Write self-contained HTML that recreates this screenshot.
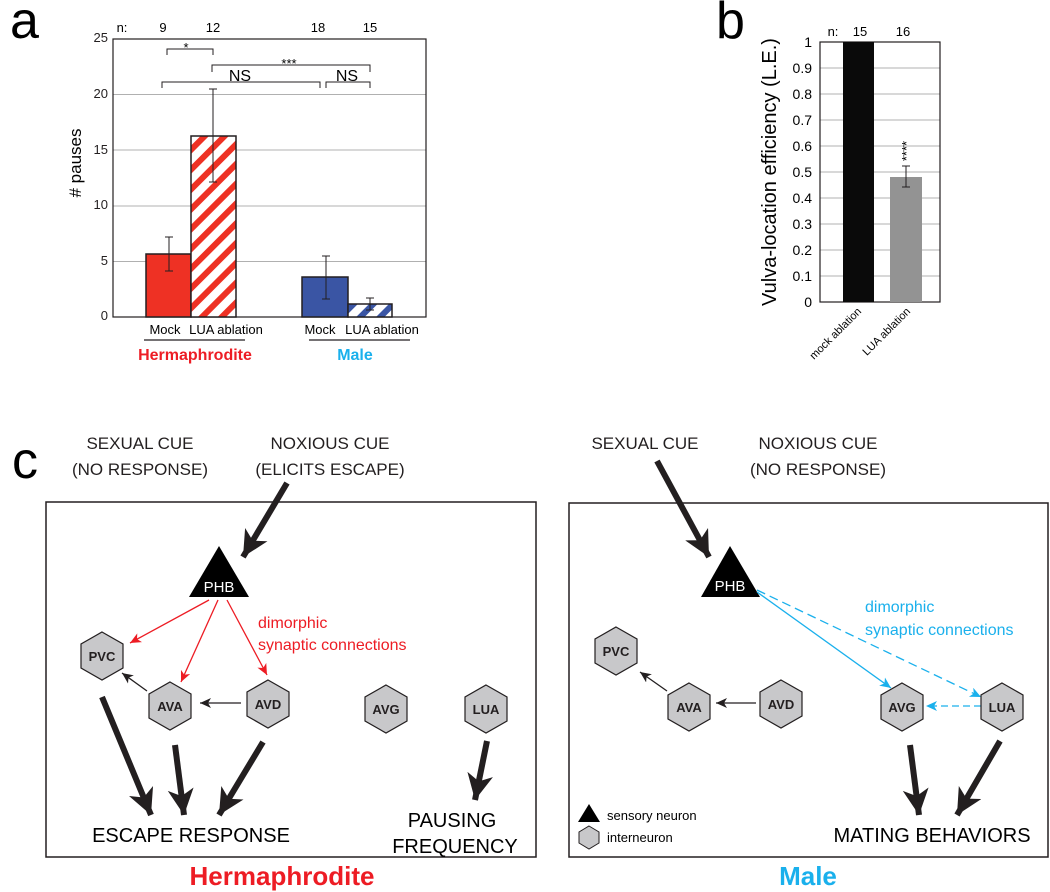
<!DOCTYPE html>
<html><head><style>body{margin:0;background:#fff}svg{display:block}text{font-family:"Liberation Sans",Arial,sans-serif}</style></head>
<body>
<svg width="1050" height="892" viewBox="0 0 1050 892" xmlns="http://www.w3.org/2000/svg">
<defs>
<pattern id="rh" patternUnits="userSpaceOnUse" width="14" height="14" patternTransform="rotate(45)"><rect width="14" height="14" fill="#fff"/><rect width="6" height="14" fill="#ee3124"/></pattern>
<pattern id="bh" patternUnits="userSpaceOnUse" width="14" height="14" patternTransform="rotate(45)"><rect width="14" height="14" fill="#fff"/><rect width="6" height="14" fill="#3a55a4"/></pattern>
<marker id="big" markerUnits="userSpaceOnUse" markerWidth="30" markerHeight="30" refX="26" refY="13" orient="auto"><path d="M0,0 L26,13 L0,26 L7,13 Z" fill="#231f20"/></marker>
<marker id="sm" markerUnits="userSpaceOnUse" markerWidth="14" markerHeight="12" refX="11" refY="5" orient="auto"><path d="M0,0 L11,5 L0,10 L3,5 Z" fill="#231f20"/></marker>
<marker id="rd" markerUnits="userSpaceOnUse" markerWidth="14" markerHeight="12" refX="11" refY="5" orient="auto"><path d="M0,0 L11,5 L0,10 L3,5 Z" fill="#ed1c24"/></marker>
<marker id="bl" markerUnits="userSpaceOnUse" markerWidth="14" markerHeight="12" refX="11" refY="5" orient="auto"><path d="M0,0 L11,5 L0,10 L3,5 Z" fill="#1ab0ec"/></marker>
<g id="hex"><polygon points="0,-24 21,-12 21,12 0,24 -21,12 -21,-12" fill="#c8c8ca" stroke="#231f20" stroke-width="1.2"/></g>
</defs>

<!-- Panel a -->
<text x="10" y="38" font-size="52">a</text>
<g stroke="#b0b0b0" stroke-width="1"><line x1="113" y1="94.5" x2="426" y2="94.5"/><line x1="113" y1="150" x2="426" y2="150"/><line x1="113" y1="206" x2="426" y2="206"/><line x1="113" y1="261.5" x2="426" y2="261.5"/></g>
<rect x="113" y="39" width="313" height="278" fill="none" stroke="#231f20" stroke-width="1.2"/>
<g font-size="13" text-anchor="end" fill="#231f20"><text x="108" y="42">25</text><text x="108" y="98">20</text><text x="108" y="154">15</text><text x="108" y="209">10</text><text x="108" y="265">5</text><text x="108" y="320">0</text></g>
<g font-size="13" text-anchor="middle"><text x="122" y="32">n:</text><text x="163" y="32">9</text><text x="213" y="32">12</text><text x="318" y="32">18</text><text x="370" y="32">15</text></g>
<rect x="146" y="254" width="45" height="63" fill="#ee3124" stroke="#231f20" stroke-width="1.5"/>
<rect x="191" y="136" width="45" height="181" fill="url(#rh)" stroke="#231f20" stroke-width="1.5"/>
<rect x="302" y="277" width="46" height="40" fill="#3a55a4" stroke="#231f20" stroke-width="1.5"/>
<rect x="348" y="304" width="44" height="13" fill="url(#bh)" stroke="#231f20" stroke-width="1.5"/>
<g stroke="#231f20" stroke-width="1" fill="none">
<path d="M169,237V271M165,237h8M165,271h8"/>
<path d="M213,89V182M209,89h8M209,182h8"/>
<path d="M326,256V299M322,256h8M322,299h8"/>
<path d="M370,298V310M366,298h8M366,310h8"/>
<path d="M167,55V49H213V55"/>
<path d="M212,72V65H370V72"/>
<path d="M162,88V82H320V88"/>
<path d="M326,88V82H370V88"/>
</g>
<text x="186" y="52" font-size="13" text-anchor="middle">*</text>
<text x="289" y="68" font-size="13" text-anchor="middle">***</text>
<text x="240" y="81" font-size="16" text-anchor="middle">NS</text>
<text x="347" y="81" font-size="16" text-anchor="middle">NS</text>
<text transform="translate(81,163) rotate(-90)" font-size="17" text-anchor="middle"># pauses</text>
<g font-size="13" text-anchor="middle"><text x="165" y="334">Mock</text><text x="226" y="334">LUA ablation</text><text x="320" y="334">Mock</text><text x="382" y="334">LUA ablation</text></g>
<line x1="144" y1="340" x2="245" y2="340" stroke="#231f20" stroke-width="1.2"/>
<line x1="309" y1="340" x2="410" y2="340" stroke="#231f20" stroke-width="1.2"/>
<text x="195" y="360" font-size="16" font-weight="bold" fill="#ed1c24" text-anchor="middle">Hermaphrodite</text>
<text x="355" y="360" font-size="16" font-weight="bold" fill="#1ab0ec" text-anchor="middle">Male</text>

<!-- Panel b -->
<text x="716" y="38" font-size="52">b</text>
<g stroke="#b0b0b0" stroke-width="1">
<line x1="820" y1="68" x2="940" y2="68"/><line x1="820" y1="94" x2="940" y2="94"/><line x1="820" y1="120" x2="940" y2="120"/><line x1="820" y1="146" x2="940" y2="146"/><line x1="820" y1="172" x2="940" y2="172"/><line x1="820" y1="198" x2="940" y2="198"/><line x1="820" y1="224" x2="940" y2="224"/><line x1="820" y1="250" x2="940" y2="250"/><line x1="820" y1="276" x2="940" y2="276"/>
</g>
<rect x="820" y="42" width="120" height="260" fill="none" stroke="#231f20" stroke-width="1.2"/>
<g font-size="14" text-anchor="end"><text x="812" y="47">1</text><text x="812" y="73">0.9</text><text x="812" y="99">0.8</text><text x="812" y="125">0.7</text><text x="812" y="151">0.6</text><text x="812" y="177">0.5</text><text x="812" y="203">0.4</text><text x="812" y="229">0.3</text><text x="812" y="255">0.2</text><text x="812" y="281">0.1</text><text x="812" y="307">0</text></g>
<g font-size="13" text-anchor="middle"><text x="833" y="36">n:</text><text x="860" y="36">15</text><text x="903" y="36">16</text></g>
<rect x="843" y="42" width="31" height="260" fill="#0a0a0a"/>
<rect x="890" y="177" width="32" height="125" fill="#939393"/>
<path d="M906,166V187M902,166h8M902,187h8" stroke="#231f20" stroke-width="1"/>
<text transform="translate(911,151) rotate(-90)" font-size="13" text-anchor="middle">****</text>
<text transform="translate(776,172) rotate(-90)" font-size="20" text-anchor="middle">Vulva-location efficiency (L.E.)</text>
<text transform="translate(862,312) rotate(-45)" font-size="11" text-anchor="end">mock ablation</text>
<text transform="translate(911,312) rotate(-45)" font-size="11" text-anchor="end">LUA ablation</text>

<!-- Panel c -->
<text x="12" y="478" font-size="52">c</text>
<g font-size="17" text-anchor="middle" fill="#231f20">
<text x="140" y="449">SEXUAL CUE</text><text x="140" y="475">(NO RESPONSE)</text>
<text x="330" y="449">NOXIOUS CUE</text><text x="330" y="475">(ELICITS ESCAPE)</text>
<text x="645" y="449">SEXUAL CUE</text>
<text x="818" y="449">NOXIOUS CUE</text><text x="818" y="475">(NO RESPONSE)</text>
</g>
<rect x="46" y="502" width="490" height="355" fill="none" stroke="#231f20" stroke-width="1.5"/>
<rect x="569" y="503" width="479" height="354" fill="none" stroke="#231f20" stroke-width="1.5"/>

<!-- left -->
<polygon points="219,546 249,597 189,597" fill="#000"/>
<text x="219" y="592" font-size="15" fill="#fff" text-anchor="middle">PHB</text>
<line x1="287" y1="483" x2="243" y2="557" stroke="#231f20" stroke-width="6" marker-end="url(#big)"/>
<g stroke="#ed1c24" stroke-width="1.3" fill="none">
<line x1="209" y1="600" x2="130" y2="643" marker-end="url(#rd)"/>
<line x1="218" y1="600" x2="181" y2="682" marker-end="url(#rd)"/>
<line x1="227" y1="600" x2="267" y2="675" marker-end="url(#rd)"/>
</g>
<text x="258" y="628" font-size="16" fill="#ed1c24">dimorphic</text>
<text x="258" y="650" font-size="16" fill="#ed1c24">synaptic connections</text>
<use href="#hex" x="102" y="656"/><use href="#hex" x="170" y="706"/><use href="#hex" x="268" y="704"/><use href="#hex" x="386" y="709"/><use href="#hex" x="486" y="709"/>
<g font-size="13" font-weight="bold" text-anchor="middle" fill="#231f20">
<text x="102" y="661">PVC</text><text x="170" y="711">AVA</text><text x="268" y="709">AVD</text><text x="386" y="714">AVG</text><text x="486" y="714">LUA</text></g>
<line x1="147" y1="691" x2="122" y2="673" stroke="#231f20" stroke-width="1.3" marker-end="url(#sm)"/>
<line x1="241" y1="703" x2="200" y2="703" stroke="#231f20" stroke-width="1.3" marker-end="url(#sm)"/>
<g stroke="#231f20" stroke-width="6">
<line x1="102" y1="697" x2="151" y2="815" marker-end="url(#big)"/>
<line x1="175" y1="745" x2="184" y2="815" marker-end="url(#big)"/>
<line x1="263" y1="742" x2="219" y2="815" marker-end="url(#big)"/>
<line x1="487" y1="741" x2="475" y2="800" marker-end="url(#big)"/>
</g>
<text x="191" y="842" font-size="20" text-anchor="middle">ESCAPE RESPONSE</text>
<text x="452" y="827" font-size="20" text-anchor="middle">PAUSING</text>
<text x="455" y="853" font-size="20" text-anchor="middle">FREQUENCY</text>
<text x="282" y="885" font-size="26" font-weight="bold" fill="#ed1c24" text-anchor="middle">Hermaphrodite</text>

<!-- right -->
<polygon points="730,546 760,597 701,597" fill="#000"/>
<text x="730" y="591" font-size="15" fill="#fff" text-anchor="middle">PHB</text>
<line x1="657" y1="461" x2="709" y2="557" stroke="#231f20" stroke-width="6" marker-end="url(#big)"/>
<line x1="757" y1="592" x2="891" y2="688" stroke="#1ab0ec" stroke-width="1.3" marker-end="url(#bl)"/>
<line x1="757" y1="590" x2="981" y2="697" stroke="#1ab0ec" stroke-width="1.3" stroke-dasharray="9,5" marker-end="url(#bl)"/>
<line x1="981" y1="706" x2="926" y2="706" stroke="#1ab0ec" stroke-width="1.3" stroke-dasharray="7,4" marker-end="url(#bl)"/>
<text x="865" y="612" font-size="16" fill="#1ab0ec">dimorphic</text>
<text x="865" y="635" font-size="16" fill="#1ab0ec">synaptic connections</text>
<use href="#hex" x="616" y="651"/><use href="#hex" x="689" y="707"/><use href="#hex" x="781" y="704"/><use href="#hex" x="902" y="707"/><use href="#hex" x="1002" y="707"/>
<g font-size="13" font-weight="bold" text-anchor="middle" fill="#231f20">
<text x="616" y="656">PVC</text><text x="689" y="712">AVA</text><text x="781" y="709">AVD</text><text x="902" y="712">AVG</text><text x="1002" y="712">LUA</text></g>
<line x1="667" y1="691" x2="640" y2="672" stroke="#231f20" stroke-width="1.3" marker-end="url(#sm)"/>
<line x1="756" y1="703" x2="716" y2="703" stroke="#231f20" stroke-width="1.3" marker-end="url(#sm)"/>
<g stroke="#231f20" stroke-width="6">
<line x1="910" y1="745" x2="919" y2="815" marker-end="url(#big)"/>
<line x1="1000" y1="741" x2="957" y2="815" marker-end="url(#big)"/>
</g>
<text x="932" y="842" font-size="20" text-anchor="middle">MATING BEHAVIORS</text>
<polygon points="589,804 600,822 578,822" fill="#000"/>
<polygon points="589,826 599,832 599,843 589,849 579,843 579,832" fill="#c8c8ca" stroke="#231f20" stroke-width="1"/>
<text x="607" y="820" font-size="13">sensory neuron</text>
<text x="607" y="842" font-size="13">interneuron</text>
<text x="808" y="885" font-size="26" font-weight="bold" fill="#1ab0ec" text-anchor="middle">Male</text>
</svg>
</body></html>
